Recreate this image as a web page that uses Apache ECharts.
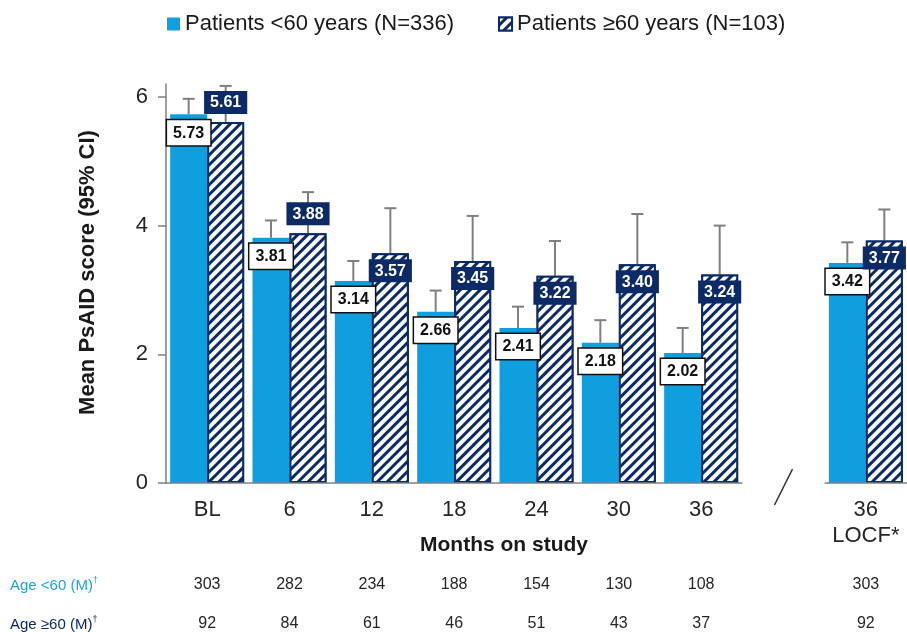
<!DOCTYPE html>
<html>
<head>
<meta charset="utf-8">
<script src="https://cdn.jsdelivr.net/npm/echarts@6/dist/echarts.min.js"></script>
<style>
  html, body { margin: 0; padding: 0; background: #fff; }
  #chart { width: 907px; height: 632px; }
</style>
</head>
<body>
<div id="chart"></div>
<script>
// Visits on study (the empty slot separates the LOCF column)
const categories = ['BL', '6', '12', '18', '24', '30', '36', '', '36\nLOCF*'];
// Mean PsAID score per visit
const meanUnder60 = [5.73, 3.81, 3.14, 2.66, 2.41, 2.18, 2.02, null, 3.42];
const meanOver60  = [5.61, 3.88, 3.57, 3.45, 3.22, 3.40, 3.24, null, 3.77];
// Upper bound of the 95% CI
const ciUpperUnder60 = [5.97, 4.08, 3.45, 2.99, 2.74, 2.53, 2.41, null, 3.74];
const ciUpperOver60  = [6.17, 4.52, 4.27, 4.15, 3.76, 4.18, 4.00, null, 4.25];
// Patients contributing at each visit
const nUnder60 = ['303', '282', '234', '188', '154', '130', '108', '', '303'];
const nOver60  = ['92', '84', '61', '46', '51', '43', '37', '', '92'];
const yTicks = [0, 2, 4, 6];
const seriesNames = ['Patients <60 years (N=336)', 'Patients \u226560 years (N=103)'];
const rowNames = ['Age <60 (M)', 'Age \u226560 (M)'];

const LIGHT = '#0f9fdf';
const NAVY = '#0b2a66';
const GREY = '#7f7f7f';
const TEXT = '#262626';
const FONT = 'Liberation Sans, Arial, sans-serif';
const BAR_W = 37;

const chart = echarts.init(document.getElementById('chart'), null, { renderer: 'canvas' });

function barData(values, above) {
  return values.map((v, i) => {
    if (v == null) return '-';
    const item = { value: v };
    if (above && above(i)) item.label = { position: 'top', distance: 8 };
    return item;
  });
}

function errorData(means, uppers) {
  const out = [];
  means.forEach((m, i) => { if (m != null) out.push([i, m, uppers[i]]); });
  return out;
}

function errorRender(shift) {
  return function (params, api) {
    const lo = api.coord([api.value(0), api.value(1)]);
    const hi = api.coord([api.value(0), api.value(2)]);
    const x = lo[0] + shift;
    const style = { stroke: GREY, lineWidth: 2 };
    return {
      type: 'group',
      children: [
        { type: 'line', shape: { x1: x, y1: lo[1], x2: x, y2: hi[1] }, style },
        { type: 'line', shape: { x1: x - 6, y1: hi[1], x2: x + 6, y2: hi[1] }, style }
      ]
    };
  };
}

// Baseline drawn per visit so that it breaks at the empty slot
const baselineData = categories.map((c, i) => c === '' ? null : [i, 0]).filter(Boolean);

function countAxis(counts, offset) {
  return {
    type: 'category',
    data: categories,
    position: 'bottom',
    offset: offset,
    axisLine: { show: false },
    axisTick: { show: false },
    axisLabel: {
      interval: 0,
      margin: 8,
      fontFamily: FONT,
      fontSize: 16,
      color: TEXT,
      formatter: (v, i) => counts[i]
    }
  };
}

function rowTitle(name, color, top) {
  const base = { color: color, fontFamily: FONT, fontWeight: 'normal', lineHeight: 20 };
  return {
    text: '{a|' + name + '}{s|\u2020}',
    left: 10,
    top: top,
    padding: 0,
    textStyle: {
      fontWeight: 'normal',
      rich: {
        a: Object.assign({ fontSize: 15 }, base),
        s: Object.assign({ fontSize: 9, verticalAlign: 'top' }, base)
      }
    }
  };
}

const option = {
  animation: false,
  textStyle: { fontFamily: FONT },
  legend: {
    top: 8,
    left: 162,
    itemWidth: 13,
    itemHeight: 13,
    itemGap: 44,
    icon: 'rect',
    data: seriesNames,
    textStyle: { fontSize: 22, color: '#1a1a1a', fontFamily: FONT }
  },
  title: [
    {
      text: 'Months on study',
      left: 499,
      top: 530,
      textAlign: 'center',
      textStyle: { fontSize: 21, fontWeight: 'bold', color: '#1a1a1a', fontFamily: FONT }
    },
    rowTitle(rowNames[0], '#1ea2e0', 576),
    rowTitle(rowNames[1], NAVY, 615)
  ],
  grid: { left: 166, right: -9, top: 84, bottom: 149, containLabel: false },
  xAxis: [
    {
      type: 'category',
      data: categories,
      axisLine: { show: false },
      axisTick: { show: false },
      axisLabel: {
        interval: 0,
        margin: 14,
        fontFamily: FONT,
        fontSize: 22,
        lineHeight: 26,
        color: TEXT
      }
    },
    countAxis(nUnder60, 86),
    countAxis(nOver60, 125)
  ],
  yAxis: {
    type: 'value',
    min: 0,
    max: 6.2,
    interval: 2,
    name: 'Mean PsAID score (95% CI)',
    nameLocation: 'middle',
    nameGap: 67,
    nameTextStyle: {
      fontSize: 22, fontWeight: 'bold', color: '#1a1a1a', fontFamily: FONT,
      padding: [0, 0, 0, 22]
    },
    axisLine: { show: true, lineStyle: { color: GREY, width: 1.5 } },
    axisTick: { show: true, length: 8, customValues: yTicks, lineStyle: { color: GREY, width: 1.5 } },
    axisLabel: { customValues: yTicks, margin: 18, fontSize: 22, color: TEXT, fontFamily: FONT },
    splitLine: { show: false }
  },
  series: [
    {
      name: seriesNames[0],
      type: 'bar',
      barWidth: BAR_W,
      barGap: '0%',
      z: 3,
      data: barData(meanUnder60),
      itemStyle: { color: LIGHT },
      label: {
        show: true,
        position: 'insideTop',
        distance: 6,
        formatter: p => p.value.toFixed(2),
        fontSize: 16,
        fontWeight: 'bold',
        fontFamily: FONT,
        color: '#111',
        backgroundColor: '#fff',
        borderColor: '#111',
        borderWidth: 1.5,
        padding: [5, 6, 4, 6]
      }
    },
    {
      name: seriesNames[1],
      type: 'bar',
      barWidth: BAR_W,
      barGap: '0%',
      z: 3,
      // the two earliest visits carry their label above the bar
      data: barData(meanOver60, i => i < 2),
      itemStyle: {
        color: NAVY,
        borderColor: NAVY,
        borderWidth: 2,
        decal: {
          symbol: 'rect',
          symbolSize: 1,
          color: '#ffffff',
          dashArrayX: [1, 0],
          dashArrayY: [3.4, 3],
          rotation: -Math.PI / 4
        }
      },
      label: {
        show: true,
        position: 'insideTop',
        distance: 6,
        formatter: p => p.value.toFixed(2),
        fontSize: 16,
        fontWeight: 'bold',
        fontFamily: FONT,
        color: '#fff',
        backgroundColor: NAVY,
        padding: [4, 6, 3, 6]
      }
    },
    {
      type: 'custom',
      silent: true,
      z: 1,
      data: errorData(meanUnder60, ciUpperUnder60),
      renderItem: errorRender(-BAR_W / 2)
    },
    {
      type: 'custom',
      silent: true,
      z: 1,
      data: errorData(meanOver60, ciUpperOver60),
      renderItem: errorRender(BAR_W / 2)
    },
    {
      type: 'custom',
      silent: true,
      z: 4,
      data: baselineData,
      renderItem: function (params, api) {
        const c = api.coord([api.value(0), 0]);
        const w = api.size([1, 0])[0];
        return {
          type: 'line',
          shape: { x1: c[0] - w / 2, y1: c[1], x2: c[0] + w / 2, y2: c[1] },
          style: { stroke: GREY, lineWidth: 1.5 }
        };
      }
    }
  ]
};

chart.setOption(option);

// Break mark in the empty slot between the visit columns and LOCF
const gapIndex = categories.indexOf('');
const gx = chart.convertToPixel({ xAxisIndex: 0 }, gapIndex);
const gy = chart.convertToPixel({ yAxisIndex: 0 }, 0);
chart.setOption({
  graphic: [{
    type: 'line',
    shape: { x1: gx - 9, y1: gy + 22, x2: gx + 9, y2: gy - 14 },
    style: { stroke: '#333', lineWidth: 1.5 },
    silent: true
  }]
});
</script>
</body>
</html>
